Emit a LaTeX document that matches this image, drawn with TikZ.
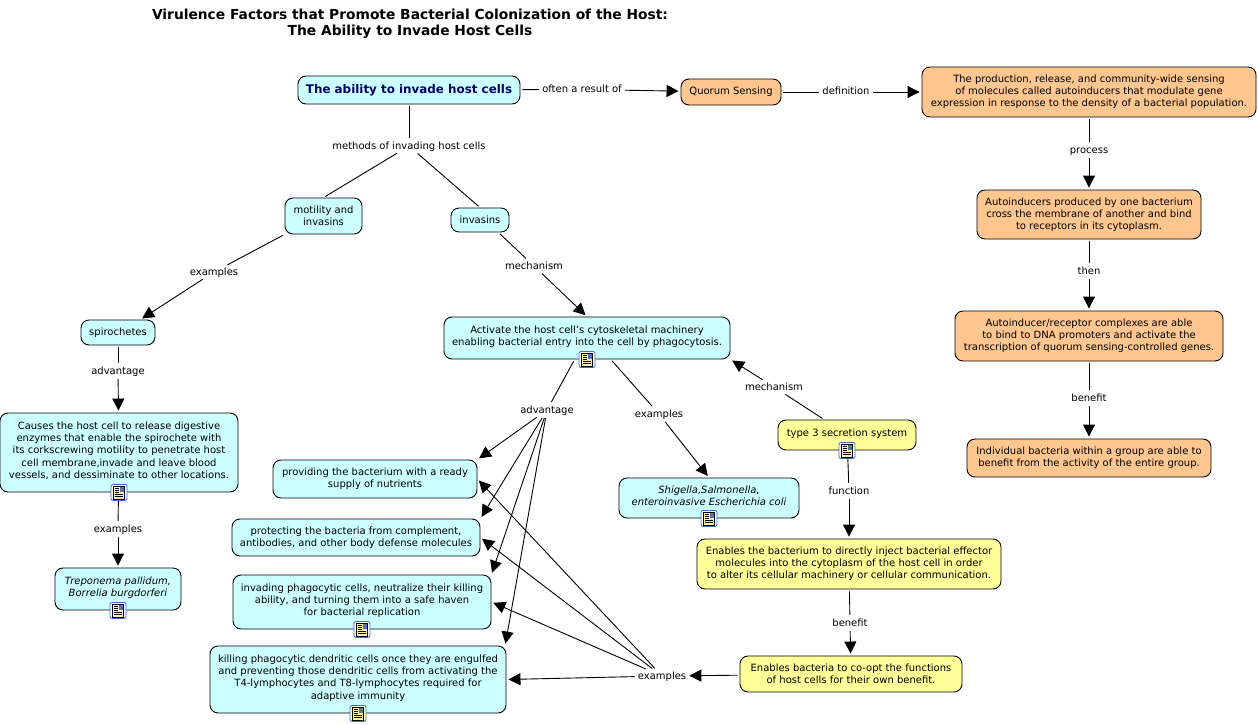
\documentclass[tikz,border=0pt]{standalone}
\usepackage{fontspec}
\setmainfont{DejaVu Sans}
\usetikzlibrary{arrows.meta,positioning}
\definecolor{cyanbox}{HTML}{CCFFFF}
\definecolor{orangebox}{HTML}{FFC68F}
\definecolor{yellowbox}{HTML}{FFFF99}
\definecolor{navytext}{HTML}{000066}
\definecolor{iconblue}{HTML}{3F6FC4}
\definecolor{iconpage}{HTML}{FFEFA8}
\newcommand{\liftline}{\rule[-5pt]{0pt}{5pt}}
\tikzset{
  concept/.style={draw=black,line width=0.9pt,rounded corners=8pt,align=center,inner sep=0pt,
    font=\fontsize{10}{12.2}\selectfont},
  cyan box/.style={concept,fill=cyanbox},
  orange box/.style={concept,fill=orangebox},
  yellow box/.style={concept,fill=yellowbox},
  phrase/.style={inner sep=1pt,text height=8pt,text depth=2pt,font=\fontsize{10}{12}\selectfont},
  title text/.style={align=center,inner sep=0pt,font=\fontsize{13.8}{16}\selectfont\bfseries},
  link/.style={draw=black,line width=0.9pt,shorten <=2pt,shorten >=2pt},
  arrow/.style={link,-{Triangle[length=12pt,width=12pt]}},
  doc icon/.pic={
    \draw[iconblue,fill=white,line width=0.8pt,rounded corners=2pt] (-8,-8) rectangle (8,8);
    \draw[black,fill=iconpage,line width=0.6pt] (-5.5,-6.5) rectangle (5.5,6.5);
    \fill[iconblue!70!gray] (0.5,-5.5) rectangle (4.5,-0.5);
    \foreach \y in {-4.5,-2.5,-0.5} \draw[black,line width=0.5pt] (-4,\y) -- (-0.5,\y);
    \foreach \y in {1.5,3.5} \draw[black,line width=0.5pt] (-4,\y) -- (4,\y);
  }
}
\begin{document}
\begin{tikzpicture}[x=1pt,y=-1pt]
\useasboundingbox (0,0) rectangle (1258,725);
\node[title text] (title) at (410,23.5) {Virulence Factors that Promote Bacterial Colonization of the Host:\\The Ability to Invade Host Cells};

\node[cyan box,minimum width=222pt,minimum height=28pt,font=\fontsize{11.9}{13}\selectfont\bfseries,text=navytext] (main) at (409,90) {The ability to invade host cells};
\node[cyan box,minimum width=77pt,minimum height=36pt] (motility) at (323.5,216) {motility and\\invasins};
\node[cyan box,minimum width=58pt,minimum height=24pt] (invasins) at (480,220) {invasins};
\node[cyan box,minimum width=74pt,minimum height=25pt] (spirochetes) at (118,332.5) {spirochetes};
\node[cyan box,minimum width=238pt,minimum height=79pt] (causes) at (119,452.5) {Causes the host cell to release digestive\\enzymes that enable the spirochete with\\its corkscrewing motility to penetrate host\\cell membrane,invade and leave blood\\vessels, and dessiminate to other locations.\liftline};
\node[cyan box,minimum width=126pt,minimum height=42pt,font=\fontsize{10}{12.2}\selectfont\itshape] (treponema) at (118,589) {Treponema pallidum,\\Borrelia burgdorferi\liftline};
\node[cyan box,minimum width=286pt,minimum height=42pt] (activate) at (587,338) {Activate the host cell's cytoskeletal machinery\\enabling bacterial entry into the cell by phagocytosis.\liftline};
\node[cyan box,minimum width=180pt,minimum height=40pt,font=\fontsize{10}{12.2}\selectfont\itshape] (shigella) at (709,498) {Shigella,Salmonella,\\enteroinvasive Escherichia coli\liftline};
\node[cyan box,minimum width=204pt,minimum height=38pt] (nutrients) at (375,479) {providing the bacterium with a ready\\supply of nutrients};
\node[cyan box,minimum width=248pt,minimum height=37pt] (protecting) at (356,537.5) {protecting the bacteria from complement,\\antibodies, and other body defense molecules};
\node[cyan box,minimum width=258pt,minimum height=54pt] (invading) at (362,602) {invading phagocytic cells, neutralize their killing\\ability, and turning them into a safe haven\\for bacterial replication\liftline};
\node[cyan box,minimum width=296pt,minimum height=67pt] (killing) at (358,679.5) {killing phagocytic dendritic cells once they are engulfed\\and preventing those dendritic cells from activating the\\T4-lymphocytes and T8-lymphocytes required for\\adaptive immunity\liftline};

\node[orange box,minimum width=100pt,minimum height=26pt] (quorum) at (731,92) {Quorum Sensing};
\node[orange box,minimum width=334pt,minimum height=50pt] (production) at (1089,92) {The production, release, and community-wide sensing\\of molecules called autoinducers that modulate gene\\expression in response to the density of a bacterial population.};
\node[orange box,minimum width=224pt,minimum height=49pt] (produced) at (1089,214.5) {Autoinducers produced by one bacterium\\cross the membrane of another and bind\\to receptors in its cytoplasm.};
\node[orange box,minimum width=268pt,minimum height=50pt] (complexes) at (1089,336) {Autoinducer/receptor complexes are able\\to bind to DNA promoters and activate the\\transcription of quorum sensing-controlled genes.};
\node[orange box,minimum width=244pt,minimum height=38pt] (individual) at (1089,458) {Individual bacteria within a group are able to\\benefit from the activity of the entire group.};

\node[yellow box,minimum width=138pt,minimum height=30pt] (secretion) at (847,435) {type 3 secretion system\liftline};
\node[yellow box,minimum width=304pt,minimum height=50pt] (inject) at (849,564) {Enables the bacterium to directly inject bacterial effector\\molecules into the cytoplasm of the host cell in order\\to alter its cellular machinery or cellular communication.};
\node[yellow box,minimum width=222pt,minimum height=36pt] (coopt) at (851,674) {Enables bacteria to co-opt the functions\\of host cells for their own benefit.};

\node[phrase] (p_often) at (582,89.5) {often a result of};
\node[phrase] (p_definition) at (846,92) {definition};
\node[phrase] (p_process) at (1089,150) {process};
\node[phrase] (p_then) at (1089,271) {then};
\node[phrase] (p_benefit) at (1089,398) {benefit};
\node[phrase] (p_methods) at (409,146) {methods of invading host cells};
\node[phrase] (p_examples) at (214,272) {examples};
\node[phrase] (p_mechanism) at (534,266) {mechanism};
\node[phrase] (p_advantage) at (118,371) {advantage};
\node[phrase] (p_spiroex) at (118,529) {examples};
\node[phrase] (p_gains) at (547,410) {advantage};
\node[phrase] (p_kinds) at (659,414) {examples};
\node[phrase] (p_secretes) at (774,387) {mechanism};
\node[phrase] (p_function) at (849,491) {function};
\node[phrase] (p_result) at (850,623) {benefit};
\node[phrase] (p_cases) at (662,676) {examples};

\path[link]
(main) edge (p_methods)
(main) edge (p_often)
(quorum) edge (p_definition)
(production) edge (p_process)
(produced) edge (p_then)
(complexes) edge (p_benefit)
(p_methods) edge (motility.north)
(p_methods) edge (invasins.north)
(motility.south west) edge (p_examples)
(invasins.-34) edge (p_mechanism)
(spirochetes) edge (p_advantage)
(causes) edge (p_spiroex)
(activate.240) edge (p_gains)
(activate.318) edge (p_kinds)
(secretion.146) edge (p_secretes)
(secretion) edge (p_function)
(inject) edge (p_result);

\path[arrow]
(p_often) edge (quorum)
(p_definition) edge (production)
(p_process) edge (produced)
(p_then) edge (complexes)
(p_benefit) edge (individual)
(p_examples) edge (spirochetes.30)
(p_mechanism) edge (activate.north)
(p_advantage) edge (causes)
(p_spiroex) edge (treponema)
(p_kinds) edge (shigella.north)
(p_secretes) edge (activate.south east)
(p_function) edge (inject)
(p_result) edge (coopt)
(coopt) edge (p_cases)
(p_gains) edge (nutrients.north east)
(p_gains) edge (protecting.north east)
(p_gains) edge (invading.north east)
(p_gains) edge (killing.13)
(p_cases) edge (nutrients.east)
(p_cases) edge (protecting.east)
(p_cases) edge (invading.east)
(p_cases) edge (killing.0.6);

\pic at (activate.south) {doc icon};
\pic at (causes.south) {doc icon};
\pic at (treponema.south) {doc icon};
\pic at (shigella.south) {doc icon};
\pic at (invading.south) {doc icon};
\pic at (killing.south) {doc icon};
\pic at (secretion.south) {doc icon};
\end{tikzpicture}
\end{document}
